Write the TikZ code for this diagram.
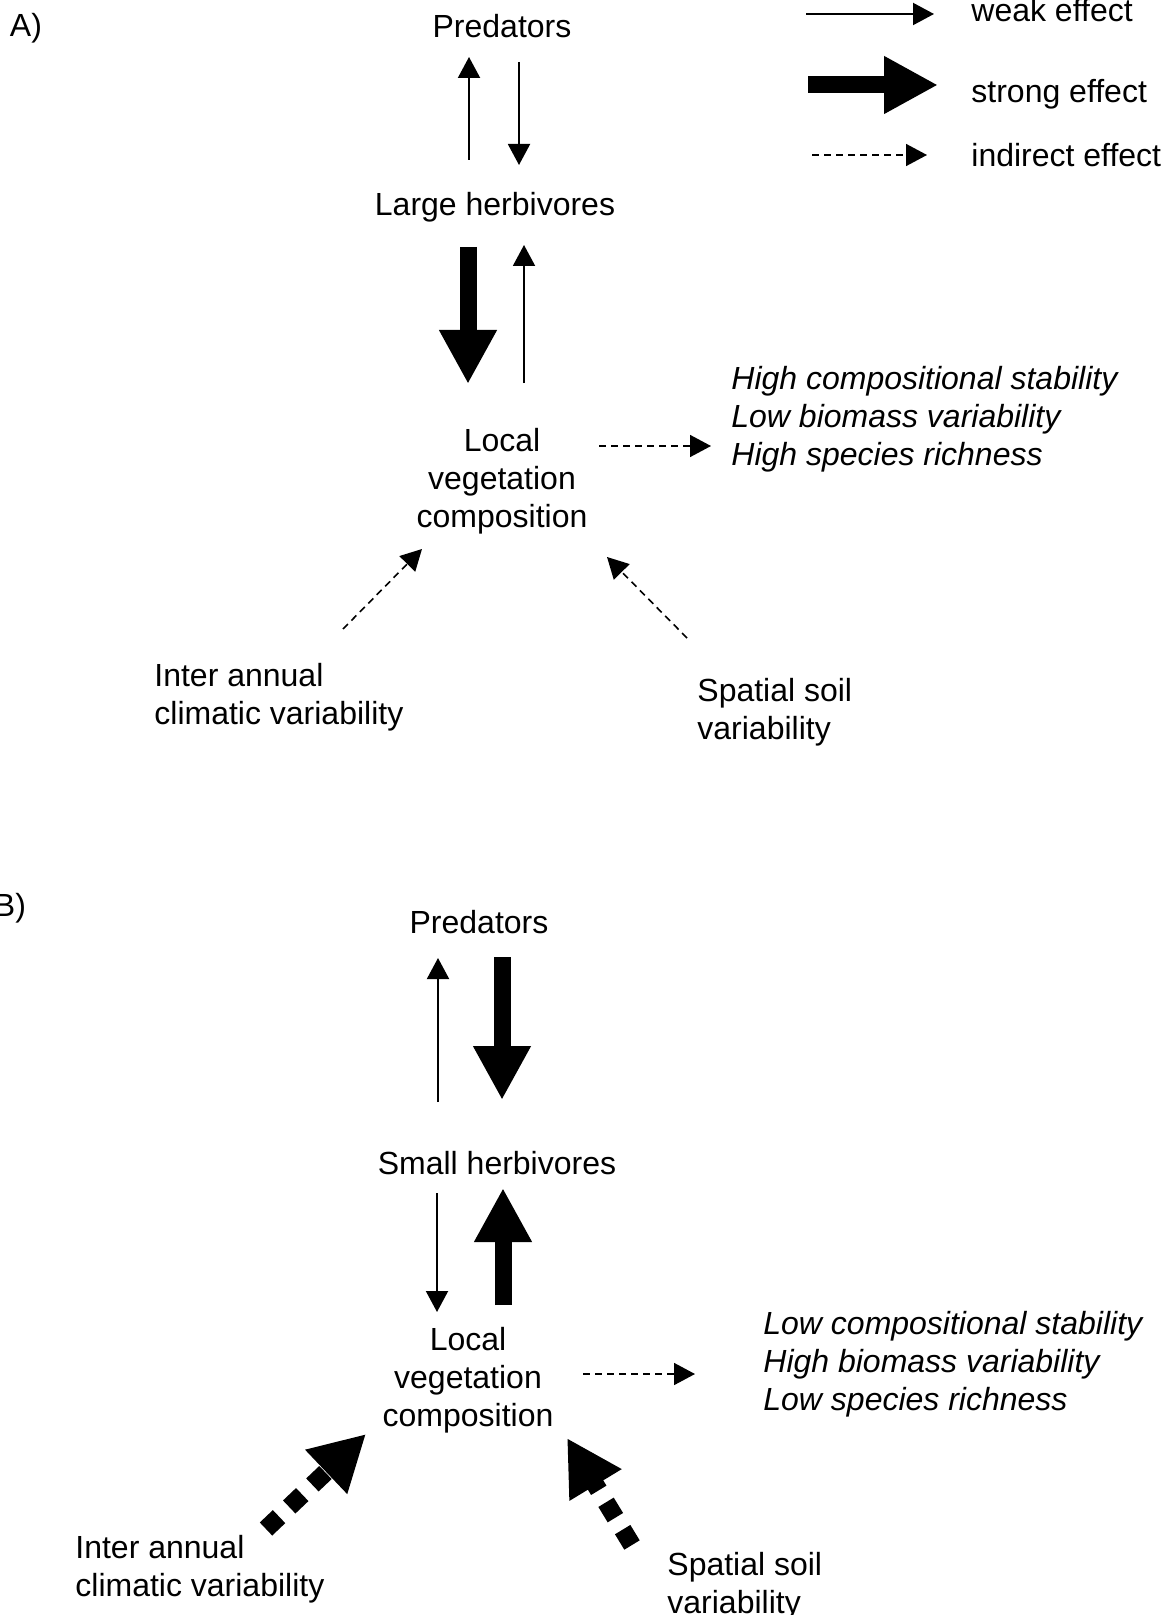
\documentclass[tikz,border=0pt]{standalone}
\usepackage{fontspec}
\setmainfont{Liberation Sans}
\usetikzlibrary{arrows.meta}

\begin{document}
\begin{tikzpicture}[x=0.5pt, y=-0.5pt,
    every node/.style={inner sep=0pt, font=\fontsize{16}{19}\selectfont},
    outcome/.style={anchor=west, align=left, font=\fontsize{16}{19}\selectfont\itshape},
    factor/.style={anchor=west, align=left},
    weakarrow/.style={line width=1pt, -{Triangle[length=10.5pt, width=11pt]}},
    strongarrow/.style={line width=8.5pt, -{Triangle[length=27pt, width=27pt]}},
    indirectarrow/.style={line width=0.8pt, dash pattern=on 3.5pt off 2.5pt, -{Triangle[length=10.5pt, width=11pt]}},
    heavyindirect/.style={line width=9pt, dash pattern=on 9pt off 7pt, -{Triangle[length=27.5pt, width=28.5pt]}}]
\useasboundingbox (0,0) rectangle (1169,1615);

% legend
\node [anchor=west] (weakL) at (971,10) {weak effect};
\node [anchor=west] (strongL) at (971,94) {strong effect};
\node [anchor=west] (indL) at (971,155) {indirect effect};
\draw [weakarrow] ([shift={(-165,4)}]weakL.west) -- ([shift={(-37,4)}]weakL.west);
\draw [strongarrow] ([shift={(-163,-9)}]strongL.west) -- ([shift={(-33,-9)}]strongL.west);
\draw [indirectarrow] ([shift={(-159,0)}]indL.west) -- ([shift={(-44,0)}]indL.west);

% A) large herbivores
\node (tagA) at (26,28) {A)};
\node (predA) at (502,26) {Predators};
\node (herbA) at (495,207) {Large herbivores};
\node [align=center] (vegA) at (502,481) {Local\\vegetation\\composition};
\node [outcome] (effA) at (731,419) {High compositional stability\\Low biomass variability\\High species richness};
\node [factor] (climA) at (154,697) {Inter annual\\climatic variability};
\node [factor] (soilA) at (697,712) {Spatial soil\\variability};

\draw [weakarrow] ([shift={(-26,-47)}]herbA.center) -- ([shift={(-33,31)}]predA.center);
\draw [weakarrow] ([shift={(17,36)}]predA.center) -- ([shift={(24,-42)}]herbA.center);
\draw [strongarrow] ([shift={(-27,40)}]herbA.center) -- ([shift={(-34,-97)}]vegA.center);
\draw [weakarrow] ([shift={(22,-98)}]vegA.center) -- ([shift={(29,38)}]herbA.center);
\draw [indirectarrow] ([shift={(97,-35)}]vegA.center) -- ([shift={(-20,27)}]effA.west);
\draw [indirectarrow] ([shift={(189,-68)}]climA.west) -- ([shift={(-80,68)}]vegA.center);
\draw [indirectarrow] ([shift={(-10,-74)}]soilA.west) -- ([shift={(105,76)}]vegA.center);

% B) small herbivores
\node (tagB) at (10,908) {B)};
\node (predB) at (479,922) {Predators};
\node (herbB) at (497,1163) {Small herbivores};
\node [align=center] (vegB) at (468,1380) {Local\\vegetation\\composition};
\node [outcome] (effB) at (763,1364) {Low compositional stability\\High biomass variability\\Low species richness};
\node [factor] (climB) at (75,1569) {Inter annual\\climatic variability};
\node [factor] (soilB) at (667,1586) {Spatial soil\\variability};

\draw [weakarrow] ([shift={(-59,-61)}]herbB.center) -- ([shift={(-41,36)}]predB.center);
\draw [strongarrow] ([shift={(23,35)}]predB.center) -- ([shift={(5,-63)}]herbB.center);
\draw [weakarrow] ([shift={(-60,30)}]herbB.center) -- ([shift={(-31,-68)}]vegB.center);
\draw [strongarrow] ([shift={(35,-75)}]vegB.center) -- ([shift={(6,25)}]herbB.center);
\draw [indirectarrow] ([shift={(115,-6)}]vegB.center) -- ([shift={(-68,10)}]effB.west);
\draw [heavyindirect] ([shift={(191,-40)}]climB.west) -- ([shift={(-102,54)}]vegB.center);
\draw [heavyindirect] ([shift={(-35,-41)}]soilB.west) -- ([shift={(99,58)}]vegB.center);

\end{tikzpicture}
\end{document}
